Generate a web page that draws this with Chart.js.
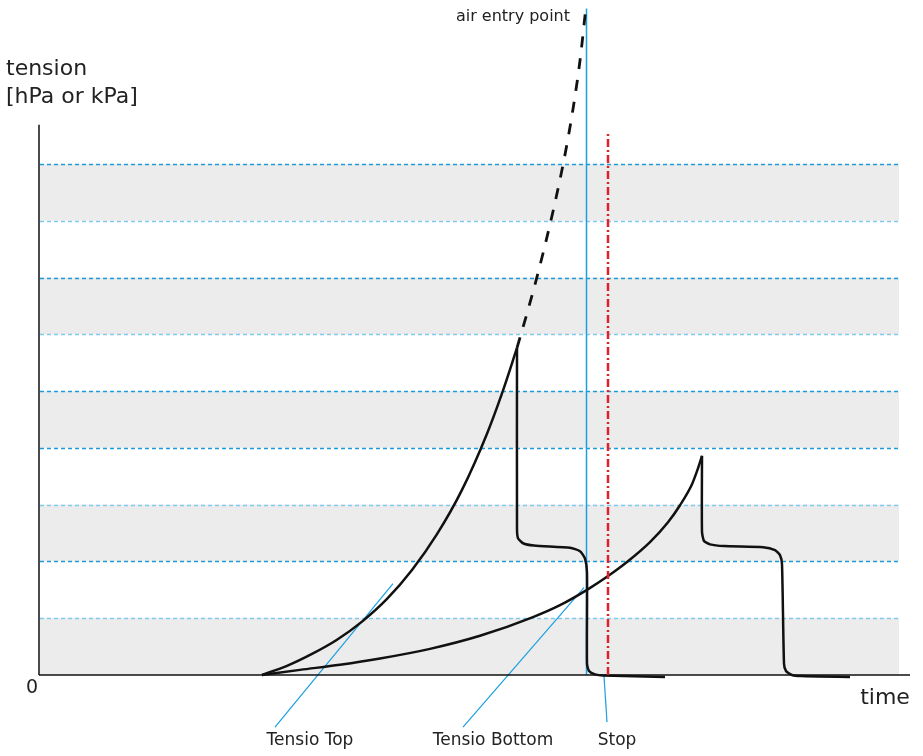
<!DOCTYPE html>
<html>
<head>
<meta charset="utf-8">
<script src="https://cdn.jsdelivr.net/npm/chart.js@4.4.1/dist/chart.umd.min.js"></script>
<style>
  html, body { margin: 0; padding: 0; background: #fff; }
  #wrap { width: 923px; height: 756px; }
</style>
</head>
<body>
<div id="wrap"><canvas id="tension"></canvas></div>
<script>
// x = time (arbitrary units), y = tension (one band = 1 unit)
const topRise = [[22.3,0],[24.8,0.16],[27.3,0.37],[29.8,0.62],[32.3,0.94],[34.8,1.34],[37.3,1.85],[39.8,2.48],[42.3,3.26],[44.8,4.25],[46.3,4.96],[47.8,5.76]];
const topAir = [[47.8,5.76],[48.9,6.43],[49.93,7.10],[50.85,7.75],[51.7,8.40],[52.44,9.02],[52.91,9.46],[53.42,9.99],[53.84,10.48],[54.17,10.92],[54.64,11.68]];
const topStep = [[47.8,5.76],[47.8,2.57],[47.9,2.41],[48.4,2.32],[49.5,2.28],[53.1,2.24],[54.1,2.18],[54.6,2.05],[54.8,1.8],[54.8,0.2],[55.0,0.07],[55.6,0.01],[56.4,-0.01],[62.6,-0.035]];
const bottomRise = [[22.3,0],[26.1,0.09],[30.1,0.18],[34.1,0.29],[39.1,0.46],[44.1,0.69],[49.4,1.02],[52.1,1.23],[54.8,1.50],[56.8,1.73],[58.8,1.99],[61.1,2.34],[62.9,2.69],[64.1,2.99],[65.3,3.36],[65.8,3.59],[66.3,3.86]];
const bottomStep = [[66.3,3.86],[66.3,2.52],[66.5,2.36],[67.1,2.30],[68.5,2.27],[72.4,2.25],[73.6,2.20],[74.1,2.11],[74.3,1.95],[74.5,0.2],[74.7,0.07],[75.3,0.0],[76.2,-0.02],[81.1,-0.035]];

const airEntryX = 54.75, airEntryTop = 11.74;
const stopX = 56.9, stopTop = 9.57;

const bands = [[0,1],[2,3],[4,5],[6,7],[8,9]];
const gridLevels = [1,2,3,4,5,6,7,8,9];
const gridDark = [false,true,false,true,true,false,true,false,true];
const gridFrom = 0.1, gridTo = 86.0;

const yAxisLine = [[0,0],[0,9.69]];
const xAxisLine = [[0,0],[87.1,0]];

const leaderTop = [[35.4,1.61],[23.6,-0.92]];
const leaderBottom = [[54.5,1.54],[42.4,-0.92]];
const leaderStop = [[56.5,-0.02],[56.8,-0.83]];

const labelText = ['Tensio Top','Tensio Bottom','Stop','air entry point','0','time'];
const labelAt = [[27.1,-1.16],[45.4,-1.16],[57.8,-1.16],[53.1,11.6],[-0.7,-0.23],[84.6,-0.41]];
const labelAlign = ['center','center','center','right','center','center'];
const labelSize = [17,17,17,16,19,22];
const yTitle = ['tension','[hPa or kPa]'];
const yTitleAt = [[-3.3,10.66],[-3.3,10.18]];

const FONT = '"Century Gothic", "URW Gothic", "DejaVu Sans", sans-serif';
const pts = arr => arr.map(p => ({x: p[0], y: p[1]}));

function line(data, color, width, extra) {
  return Object.assign({
    data: pts(data), borderColor: color, borderWidth: width,
    pointRadius: 0, tension: 0, fill: false
  }, extra || {});
}

const backdrop = {
  id: 'backdrop',
  beforeDatasetsDraw(chart) {
    const {ctx, scales: {x, y}} = chart;
    const x0 = x.getPixelForValue(gridFrom), x1 = x.getPixelForValue(gridTo);
    ctx.save();
    ctx.fillStyle = '#ececec';
    bands.forEach(b => {
      const t = y.getPixelForValue(b[1]), btm = y.getPixelForValue(b[0]);
      ctx.fillRect(x0, t, x1 - x0, btm - t);
    });
    ctx.lineWidth = 1.5;
    ctx.setLineDash([4, 3]);
    gridLevels.forEach((v, i) => {
      const py = Math.round(y.getPixelForValue(v)) + 0.5;
      ctx.strokeStyle = gridDark[i] ? '#1f9ad8' : '#7fcbee';
      ctx.beginPath();
      ctx.moveTo(x0, py);
      ctx.lineTo(x1, py);
      ctx.stroke();
    });
    ctx.restore();
  },
  afterDraw(chart) {
    const {ctx, scales: {x, y}} = chart;
    ctx.save();
    ctx.fillStyle = '#222';
    ctx.textBaseline = 'middle';
    labelText.forEach((t, i) => {
      ctx.font = labelSize[i] + 'px ' + FONT;
      ctx.textAlign = labelAlign[i];
      ctx.fillText(t, x.getPixelForValue(labelAt[i][0]), y.getPixelForValue(labelAt[i][1]));
    });
    ctx.font = '22px ' + FONT;
    ctx.textAlign = 'left';
    yTitle.forEach((t, i) => {
      ctx.fillText(t, x.getPixelForValue(yTitleAt[i][0]), y.getPixelForValue(yTitleAt[i][1]));
    });
    ctx.restore();
  }
};

new Chart(document.getElementById('tension'), {
  type: 'line',
  data: {
    datasets: [
      line(topRise, '#111', 2.5, {cubicInterpolationMode: 'monotone', order: 1}),
      line(topAir, '#111', 2.8, {cubicInterpolationMode: 'monotone', borderDash: [11, 11], order: 1}),
      line(topStep, '#111', 2.5, {tension: 0.2, order: 1}),
      line(bottomRise, '#111', 2.5, {cubicInterpolationMode: 'monotone', order: 1}),
      line(bottomStep, '#111', 2.5, {tension: 0.2, order: 1}),
      line([[airEntryX, 0], [airEntryX, airEntryTop]], '#1a9fe0', 1.5, {order: 3}),
      line([[stopX, 0], [stopX, stopTop]], '#e3202a', 2.5, {borderDash: [8, 3, 2, 3], order: 0}),
      line(yAxisLine, '#111', 1.5, {order: 2}),
      line(xAxisLine, '#111', 1.5, {order: 2}),
      line(leaderTop, '#1a9fe0', 1.2, {order: 2}),
      line(leaderBottom, '#1a9fe0', 1.2, {order: 2}),
      line(leaderStop, '#1a9fe0', 1.2, {order: 2})
    ]
  },
  options: {
    responsive: true,
    maintainAspectRatio: false,
    animation: false,
    layout: {padding: 0},
    plugins: {legend: {display: false}, tooltip: {enabled: false}},
    scales: {
      x: {type: 'linear', min: -3.9, max: 88.4, display: false},
      y: {type: 'linear', min: -1.427, max: 11.888, display: false}
    }
  },
  plugins: [backdrop]
});
</script>
</body>
</html>
